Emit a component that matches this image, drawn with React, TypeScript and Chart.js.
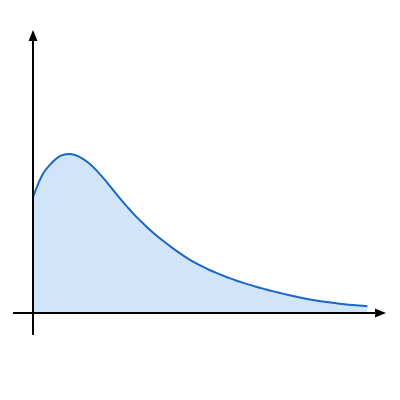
import React, { useRef, useEffect } from "react";
import { Chart, registerables, ChartConfiguration, Plugin } from "chart.js";

Chart.register(...registerables);

// curve (x, y in chart units), every 0.25
const xValues = [
  0, 0.25, 0.5, 0.75, 1, 1.25, 1.5, 1.75, 2, 2.25, 2.5, 2.75, 3, 3.25, 3.5, 3.75, 4, 4.25, 4.5,
  4.75, 5, 5.25, 5.5, 5.75, 6, 6.25, 6.5, 6.75, 7, 7.25, 7.5, 7.75, 8, 8.25, 8.5, 8.75, 9,
];
const yValues = [
  4.1, 4.88, 5.3, 5.56, 5.62, 5.52, 5.3, 4.98, 4.6, 4.19, 3.8, 3.44, 3.12, 2.82, 2.55, 2.3, 2.07,
  1.86, 1.68, 1.52, 1.38, 1.25, 1.13, 1.03, 0.93, 0.84, 0.755, 0.675, 0.6, 0.53, 0.47, 0.415, 0.37,
  0.33, 0.295, 0.265, 0.24,
];

const X_MAX = 9.5;
const Y_MAX = 10;

// draws the two black axes with arrow heads
const arrowAxes: Plugin<"line"> = {
  id: "arrowAxes",
  afterDraw(chart) {
    const { ctx } = chart;
    const xs = chart.scales.x;
    const ys = chart.scales.y;
    const ox = xs.getPixelForValue(0);
    const oy = ys.getPixelForValue(0);
    const xEnd = xs.getPixelForValue(X_MAX);
    const yEnd = ys.getPixelForValue(Y_MAX);
    const head = 11;
    const half = 4.5;

    ctx.save();
    ctx.strokeStyle = "#000";
    ctx.fillStyle = "#000";
    ctx.lineWidth = 2;

    ctx.beginPath();
    ctx.moveTo(ox - 20, oy);
    ctx.lineTo(xEnd - head + 1, oy);
    ctx.moveTo(ox, oy + 22);
    ctx.lineTo(ox, yEnd + head - 1);
    ctx.stroke();

    ctx.beginPath();
    ctx.moveTo(xEnd, oy);
    ctx.lineTo(xEnd - head, oy - half);
    ctx.lineTo(xEnd - head, oy + half);
    ctx.closePath();
    ctx.fill();

    ctx.beginPath();
    ctx.moveTo(ox, yEnd);
    ctx.lineTo(ox - half, yEnd + head);
    ctx.lineTo(ox + half, yEnd + head);
    ctx.closePath();
    ctx.fill();
    ctx.restore();
  },
};

const CurveChart = () => {
  const canvasRef = useRef<HTMLCanvasElement | null>(null);
  const chartRef = useRef<Chart | null>(null);

  useEffect(() => {
    document.body.style.margin = "0";
    if (!canvasRef.current) return;
    const ctx = canvasRef.current.getContext("2d");
    if (!ctx) return;
    if (chartRef.current) chartRef.current.destroy();

    const config: ChartConfiguration<"line"> = {
      type: "line",
      data: {
        datasets: [
          {
            data: xValues.map((x, i) => ({ x, y: yValues[i] })),
            borderColor: "#1a67c4",
            borderWidth: 2,
            backgroundColor: "rgba(208, 228, 250, 1)",
            fill: "origin",
            pointRadius: 0,
            tension: 0.4,
          },
        ],
      },
      options: {
        responsive: false,
        animation: false,
        layout: { padding: { left: 33, right: 14, top: 30, bottom: 87 } },
        scales: {
          x: { type: "linear", min: 0, max: X_MAX, display: false },
          y: { type: "linear", min: 0, max: Y_MAX, display: false },
        },
        plugins: {
          legend: { display: false },
          tooltip: { enabled: false },
        },
      },
      plugins: [arrowAxes],
    };

    chartRef.current = new Chart(ctx, config);
    return () => {
      if (chartRef.current) {
        chartRef.current.destroy();
        chartRef.current = null;
      }
    };
  }, []);

  return <canvas ref={canvasRef} width="400" height="400"></canvas>;
};

export default function App() {
  return <CurveChart />;
}
